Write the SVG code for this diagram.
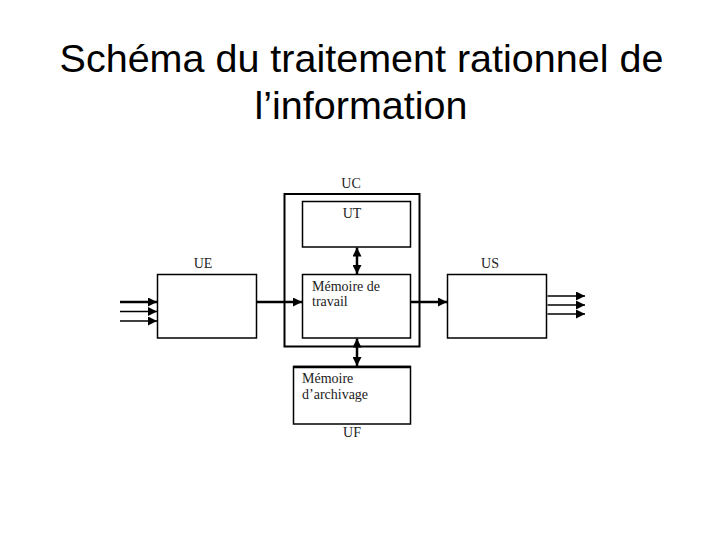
<svg xmlns="http://www.w3.org/2000/svg" width="720" height="540" viewBox="0 0 720 540">
<style>
.title{font-family:"Liberation Sans",Arial,sans-serif;font-size:39.5px;fill:#000;text-anchor:middle}
.lbl{font-family:"Liberation Serif","Times New Roman",serif;font-size:14px;fill:#222}
.mid{text-anchor:middle}
.box{fill:#fff;stroke:#000;stroke-width:1.5}
.ln{stroke:#000;stroke-width:1.5;fill:none}
.thk{stroke:#000;stroke-width:2.5;fill:none}
</style>
<defs>
<marker id="ah" viewBox="0 0 10 10" refX="10" refY="5" markerWidth="11" markerHeight="9" markerUnits="userSpaceOnUse" orient="auto-start-reverse">
<path d="M0,0 L10,5 L0,10 z" fill="#000"/>
</marker>
<marker id="ah2" viewBox="0 0 10 10" refX="10" refY="5" markerWidth="12" markerHeight="9" markerUnits="userSpaceOnUse" orient="auto">
<path d="M0,0 L10,5 L0,10 z" fill="#000"/>
</marker>
</defs>
<rect width="720" height="540" fill="#fff"/>
<text class="title" x="361.5" y="72">Schéma du traitement rationnel de</text>
<text class="title" x="361" y="118.5">l’information</text>

<g id="UC">
<rect x="284.5" y="194" width="135" height="152.5" fill="none" stroke="#000" stroke-width="2"/>
<text class="lbl mid" x="351" y="188">UC</text>
</g>
<g id="UT">
<rect class="box" x="302.5" y="201.5" width="108" height="45.5"/>
<text class="lbl mid" x="352" y="218">UT</text>
</g>
<g id="MT">
<rect class="box" x="302.5" y="274.5" width="108" height="63.5"/>
<text class="lbl" x="312" y="291">Mémoire de</text>
<text class="lbl" x="312" y="306">travail</text>
</g>
<g id="UE">
<rect class="box" x="157.5" y="274.5" width="99" height="63.5"/>
<text class="lbl mid" x="203" y="268">UE</text>
</g>
<g id="US">
<rect class="box" x="447.5" y="274.5" width="99" height="63.5"/>
<text class="lbl mid" x="490" y="268">US</text>
</g>
<g id="MA">
<rect class="box" x="293.5" y="366.5" width="117" height="57.5"/>
<line x1="293.5" y1="367" x2="410.5" y2="367" stroke="#000" stroke-width="2.5"/>
<text class="lbl" x="302" y="383">Mémoire</text>
<text class="lbl" x="302" y="399">d’archivage</text>
<text class="lbl mid" x="352" y="437">UF</text>
</g>

<g id="connectors">
<line class="thk" x1="120" y1="302" x2="157" y2="302" marker-end="url(#ah2)"/>
<line class="ln" x1="120" y1="311.5" x2="157" y2="311.5" marker-end="url(#ah2)"/>
<line class="ln" x1="120" y1="321" x2="157" y2="321" marker-end="url(#ah2)"/>
<line class="thk" x1="257" y1="302" x2="302" y2="302" marker-end="url(#ah)"/>
<line class="thk" x1="411" y1="302" x2="447" y2="302" marker-end="url(#ah)"/>
<line class="thk" x1="357" y1="247.5" x2="357" y2="274" marker-start="url(#ah)" marker-end="url(#ah)"/>
<line class="thk" x1="357" y1="338.5" x2="357" y2="366" marker-start="url(#ah)" marker-end="url(#ah)"/>
<line class="ln" x1="547.5" y1="296" x2="585" y2="296" marker-end="url(#ah2)"/>
<line class="ln" x1="547.5" y1="305" x2="585" y2="305" marker-end="url(#ah2)"/>
<line class="ln" x1="547.5" y1="314" x2="585" y2="314" marker-end="url(#ah2)"/>
</g>
</svg>
